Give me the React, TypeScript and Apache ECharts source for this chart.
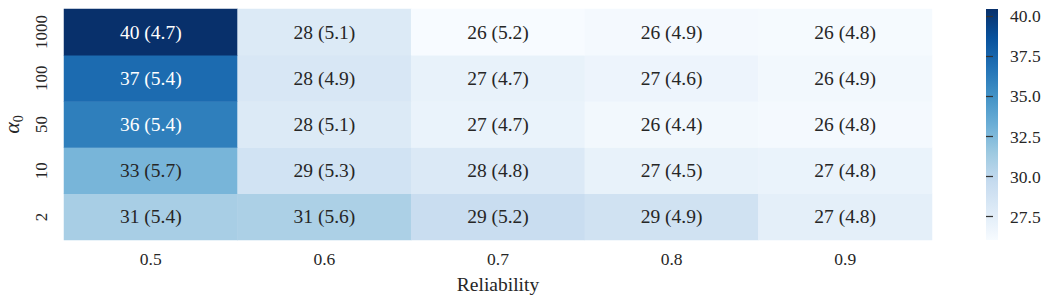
import React, { useEffect, useRef } from "react";
import * as echarts from "echarts";

const reliabilities = ["0.5", "0.6", "0.7", "0.8", "0.9"];
// bottom to top
const alphas = ["2", "10", "50", "100", "1000"];

// means per alpha row (same order as alphas), one value per reliability
const mean2 = [31.0, 30.8, 29.4, 28.9, 27.4];
const mean10 = [32.8, 28.8, 28.1, 27.1, 27.0];
const mean50 = [36.1, 28.0, 27.0, 26.4, 26.3];
const mean100 = [37.2, 28.3, 27.1, 26.8, 26.4];
const mean1000 = [40.45, 28.0, 26.05, 26.3, 26.2];

const std2 = [5.4, 5.6, 5.2, 4.9, 4.8];
const std10 = [5.7, 5.3, 4.8, 4.5, 4.8];
const std50 = [5.4, 5.1, 4.7, 4.4, 4.8];
const std100 = [5.4, 4.9, 4.7, 4.6, 4.9];
const std1000 = [4.7, 5.1, 5.2, 4.9, 4.8];

const colorbarTicks = [27.5, 30.0, 32.5, 35.0, 37.5, 40.0];

const BLUES = [
  "#f7fbff",
  "#deebf7",
  "#c6dbef",
  "#9ecae1",
  "#6baed6",
  "#4292c6",
  "#2171b5",
  "#08519c",
  "#08306b",
];

const FONT = "Liberation Serif";
const TEXT = "#262626";

export default function App() {
  const ref = useRef<HTMLDivElement>(null);

  useEffect(() => {
    if (!ref.current) return;
    const chart = echarts.init(ref.current, undefined, { renderer: "svg" });

    const means = [mean2, mean10, mean50, mean100, mean1000];
    const stds = [std2, std10, std50, std100, std1000];
    const all = means.flat();
    const minV = Math.min(...all);
    const maxV = Math.max(...all);

    const data: any[] = [];
    means.forEach((row, yi) => {
      row.forEach((v, xi) => {
        data.push({
          value: [xi, yi, v, stds[yi][xi]],
          label: { color: v >= 35 ? "#ffffff" : TEXT },
        });
      });
    });

    const cbLeft = 986;
    const cbTop = 9;
    const cbW = 12;
    const cbH = 231;

    chart.setOption({
      animation: false,
      textStyle: { fontFamily: FONT },
      grid: [
        { left: 64, right: 121, top: 9, bottom: 64, outerBoundsMode: "none", containLabel: false },
        { left: cbLeft, width: cbW, top: cbTop, height: cbH, outerBoundsMode: "none", containLabel: false },
      ],
      xAxis: [
        {
          type: "category",
          gridIndex: 0,
          data: reliabilities,
          axisLine: { show: false },
          axisTick: {
            alignWithLabel: true,
            length: 7,
            lineStyle: { color: "#333", width: 1.25 },
          },
          axisLabel: { fontSize: 17.5, color: TEXT, fontFamily: FONT, margin: 10 },
          splitArea: { show: false },
          name: "Reliability",
          nameLocation: "middle",
          nameGap: 34,
          nameTextStyle: { fontSize: 19.5, color: TEXT, fontFamily: FONT },
        },
        { type: "value", gridIndex: 1, show: false, min: 0, max: 1 },
      ],
      yAxis: [
        {
          type: "category",
          gridIndex: 0,
          data: alphas,
          axisLine: { show: false },
          axisTick: {
            alignWithLabel: true,
            length: 7,
            lineStyle: { color: "#333", width: 1.25 },
          },
          axisLabel: {
            fontSize: 17,
            color: TEXT,
            fontFamily: FONT,
            rotate: 90,
            margin: 14,
          },
          splitArea: { show: false },
          name: "{a|α}{s|0}",
          nameLocation: "middle",
          nameRotate: 90,
          nameGap: 40,
          nameTextStyle: {
            rich: {
              a: { fontSize: 22, color: TEXT, fontFamily: FONT, fontStyle: "italic", lineHeight: 22, verticalAlign: "bottom" },
              s: { fontSize: 14, color: TEXT, fontFamily: FONT, lineHeight: 22, verticalAlign: "bottom", padding: [0, 0, -3, 0] },
            },
          },
        },
        {
          type: "value",
          gridIndex: 1,
          position: "right",
          min: minV,
          max: maxV,
          axisLine: { show: false },
          splitLine: { show: false },
          axisTick: {
            show: true,
            customValues: colorbarTicks,
            length: 7,
            lineStyle: { color: "#333", width: 1.25 },
          },
          axisLabel: {
            customValues: colorbarTicks,
            formatter: (v: number) => v.toFixed(1),
            fontSize: 17.5,
            color: TEXT,
            fontFamily: FONT,
            margin: 12,
          },
        },
      ],
      visualMap: {
        show: false,
        type: "continuous",
        min: minV,
        max: maxV,
        dimension: 2,
        seriesIndex: 0,
        inRange: { color: BLUES },
      },
      graphic: [
        {
          type: "rect",
          left: cbLeft,
          top: cbTop,
          shape: { x: 0, y: 0, width: cbW, height: cbH },
          style: {
            fill: new echarts.graphic.LinearGradient(
              0,
              1,
              0,
              0,
              BLUES.map((c, i) => ({ offset: i / (BLUES.length - 1), color: c }))
            ),
          },
        },
      ],
      series: [
        {
          type: "heatmap",
          xAxisIndex: 0,
          yAxisIndex: 0,
          data,
          itemStyle: { borderWidth: 0 },
          emphasis: { disabled: true },
          label: {
            show: true,
            fontSize: 19.5,
            fontFamily: FONT,
            formatter: (p: any) =>
              `${Math.round(p.value[2])} (${p.value[3].toFixed(1)})`,
          },
        },
      ],
    });

    return () => chart.dispose();
  }, []);

  return (
    <div
      ref={ref}
      style={{ position: "fixed", left: 0, top: 0, width: 1053, height: 304, background: "#fff" }}
    />
  );
}
